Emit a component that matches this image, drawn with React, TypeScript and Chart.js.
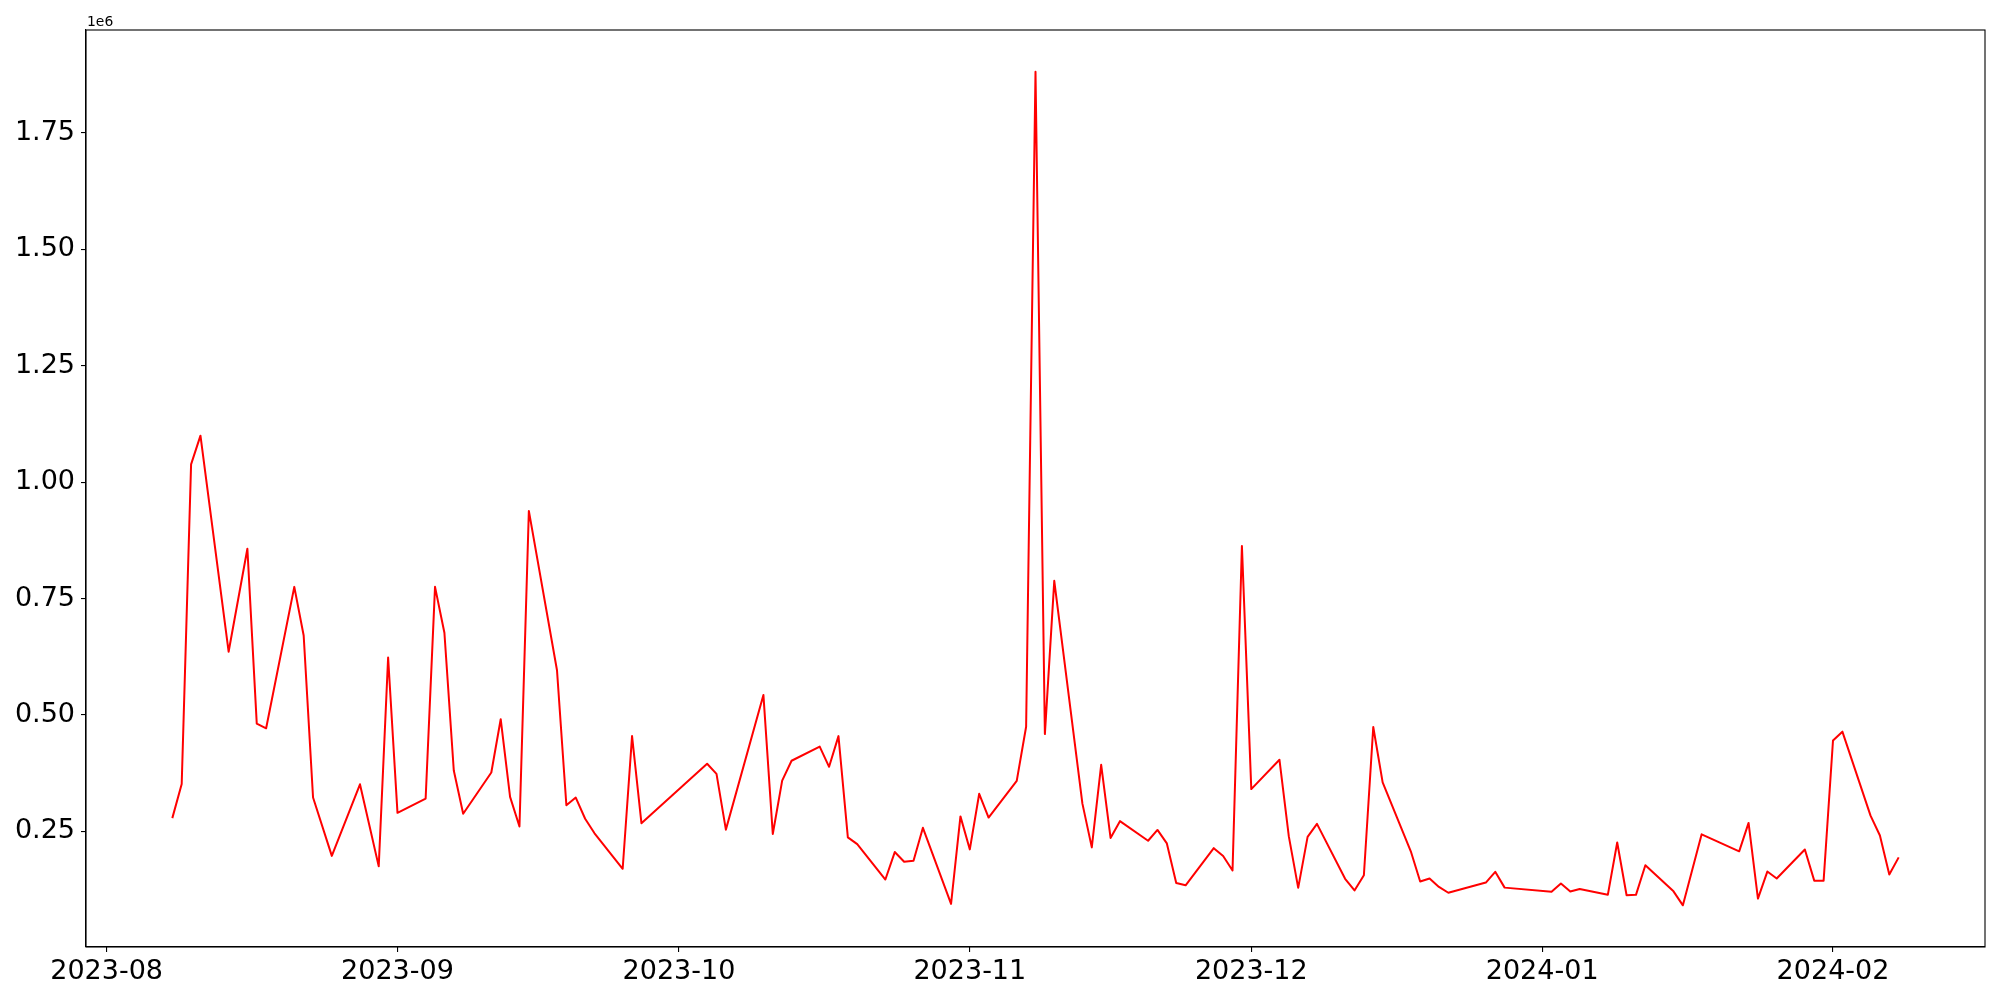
import React, { useEffect, useRef } from "react";
import { Chart, registerables } from "chart.js";

Chart.register(...registerables);

const dates: string[] = [
  "2023-08-08", "2023-08-09", "2023-08-10", "2023-08-11", "2023-08-14", "2023-08-16", "2023-08-17", "2023-08-18",
  "2023-08-21", "2023-08-22", "2023-08-23", "2023-08-25", "2023-08-28", "2023-08-29", "2023-08-30", "2023-08-31",
  "2023-09-01", "2023-09-04", "2023-09-05", "2023-09-06", "2023-09-07", "2023-09-08", "2023-09-11", "2023-09-12",
  "2023-09-13", "2023-09-14", "2023-09-15", "2023-09-18", "2023-09-19", "2023-09-20", "2023-09-21", "2023-09-22",
  "2023-09-25", "2023-09-26", "2023-09-27", "2023-10-04", "2023-10-05", "2023-10-06", "2023-10-10", "2023-10-11",
  "2023-10-12", "2023-10-13", "2023-10-16", "2023-10-17", "2023-10-18", "2023-10-19", "2023-10-20", "2023-10-23",
  "2023-10-24", "2023-10-25", "2023-10-26", "2023-10-27", "2023-10-30", "2023-10-31", "2023-11-01", "2023-11-02",
  "2023-11-03", "2023-11-06", "2023-11-07", "2023-11-08", "2023-11-09", "2023-11-10", "2023-11-13", "2023-11-14",
  "2023-11-15", "2023-11-16", "2023-11-17", "2023-11-20", "2023-11-21", "2023-11-22", "2023-11-23", "2023-11-24",
  "2023-11-27", "2023-11-28", "2023-11-29", "2023-11-30", "2023-12-01", "2023-12-04", "2023-12-05", "2023-12-06",
  "2023-12-07", "2023-12-08", "2023-12-11", "2023-12-12", "2023-12-13", "2023-12-14", "2023-12-15", "2023-12-18",
  "2023-12-19", "2023-12-20", "2023-12-21", "2023-12-22", "2023-12-26", "2023-12-27", "2023-12-28", "2024-01-02",
  "2024-01-03", "2024-01-04", "2024-01-05", "2024-01-08", "2024-01-09", "2024-01-10", "2024-01-11", "2024-01-12",
  "2024-01-15", "2024-01-16", "2024-01-18", "2024-01-22", "2024-01-23", "2024-01-24", "2024-01-25", "2024-01-26",
  "2024-01-29", "2024-01-30", "2024-01-31", "2024-02-01", "2024-02-02", "2024-02-05", "2024-02-06", "2024-02-07",
  "2024-02-08",
];

const values: number[] = [
  278300, 351500, 1038100, 1099800, 635700, 856900, 481300, 471200,
  775000, 670600, 322600, 197100, 351000, 263000, 174700, 623400,
  289600, 320400, 775000, 676400, 380500, 287700, 376200, 490700,
  324000, 260200, 938100, 595900, 305900, 322500, 276900, 245700,
  169500, 454500, 267400, 395000, 373300, 253600, 542900, 244200,
  358800, 401500, 432000, 388500, 454500, 237000, 222500, 146400,
  205400, 184500, 186600, 257500, 94100, 282000, 211100, 330600,
  279500, 358400, 474500, 1881600, 458800, 788000, 309400, 215400,
  392900, 235600, 271800, 229700, 252900, 223900, 139100, 134000,
  213800, 197100, 165900, 862700, 340600, 403700, 239000, 128500,
  238000, 266000, 148000, 123000, 155600, 474000, 355000, 207000,
  142000, 148500, 130600, 118000, 139900, 163000, 129000, 120000,
  137700, 120500, 126000, 113500, 226000, 112600, 113500, 177000,
  121000, 91000, 243500, 207000, 268000, 105500, 163500, 148500,
  211000, 144000, 144000, 445000, 464000, 283600, 241000, 157000,
  194000,
];

const monthTicks: string[] = ["2023-08", "2023-09", "2023-10", "2023-11", "2023-12", "2024-01", "2024-02"];
const yTicks: number[] = [250000, 500000, 750000, 1000000, 1250000, 1500000, 1750000];

const toMs = (s: string) => {
  const [y, m, d] = s.split("-").map(Number);
  return Date.UTC(y, m - 1, d || 1);
};

const FONT = "'DejaVu Sans', sans-serif";

export default function App() {
  const ref = useRef<HTMLCanvasElement | null>(null);

  useEffect(() => {
    if (!ref.current) return;
    const xs = dates.map(toMs);
    const pts = xs.map((x, i) => ({ x, y: values[i] }));
    const xMinD = Math.min(...xs), xMaxD = Math.max(...xs);
    const yMinD = Math.min(...values), yMaxD = Math.max(...values);
    const xr = xMaxD - xMinD, yr = yMaxD - yMinD;

    const frame = {
      id: "frame",
      afterDraw(chart: any) {
        const { ctx, chartArea } = chart;
        ctx.save();
        ctx.strokeStyle = "#000";
        ctx.lineWidth = 1.1;
        ctx.strokeRect(chartArea.left, chartArea.top, chartArea.right - chartArea.left, chartArea.bottom - chartArea.top);
        ctx.fillStyle = "#000";
        ctx.font = `13.9px ${FONT}`;
        ctx.textBaseline = "alphabetic";
        ctx.textAlign = "left";
        ctx.fillText("1e6", chartArea.left + 1, 26);
        ctx.restore();
      },
    };

    const chart = new Chart(ref.current, {
      type: "line",
      data: {
        datasets: [
          {
            data: pts,
            borderColor: "#ff0000",
            borderWidth: 2,
            pointRadius: 0,
            tension: 0,
            fill: false,
            borderJoinStyle: "round",
          },
        ],
      },
      options: {
        animation: false,
        responsive: false,
        devicePixelRatio: 1,
        parsing: false,
        layout: { padding: { top: 30, right: 15, left: 0, bottom: 0 } },
        plugins: { legend: { display: false }, tooltip: { enabled: false } },
        scales: {
          x: {
            type: "linear",
            min: xMinD - 0.05 * xr,
            max: xMaxD + 0.05 * xr,
            afterFit: (s: any) => { s.height = 53; },
            afterBuildTicks: (s: any) => { s.ticks = monthTicks.map((m) => ({ value: toMs(m) })); },
            grid: { drawOnChartArea: false, drawTicks: true, tickLength: 5, color: "#000", lineWidth: 1.1 },
            border: { display: true, color: "#000", width: 1.1 },
            ticks: {
              color: "#000",
              font: { family: FONT, size: 27 },
              padding: 4,
              maxRotation: 0,
              autoSkip: false,
              callback: (v: any) => {
                const d = new Date(Number(v));
                return `${d.getUTCFullYear()}-${String(d.getUTCMonth() + 1).padStart(2, "0")}`;
              },
            },
          },
          y: {
            type: "linear",
            min: yMinD - 0.05 * yr,
            max: yMaxD + 0.05 * yr,
            afterFit: (s: any) => { s.width = 86; },
            afterBuildTicks: (s: any) => { s.ticks = yTicks.map((v) => ({ value: v })); },
            grid: { drawOnChartArea: false, drawTicks: true, tickLength: 5, color: "#000", lineWidth: 1.1 },
            border: { display: true, color: "#000", width: 1.1 },
            ticks: {
              color: "#000",
              font: { family: FONT, size: 27 },
              padding: 6,
              autoSkip: false,
              callback: (v: any) => (Number(v) / 1e6).toFixed(2),
            },
          },
        },
      },
      plugins: [frame],
    } as any);
    return () => chart.destroy();
  }, []);

  return (
    <div style={{ position: "absolute", left: 0, top: 0, width: 2000, height: 1000, background: "#fff" }}>
      <canvas ref={ref} width={2000} height={1000} style={{ display: "block", width: 2000, height: 1000 }} />
    </div>
  );
}
